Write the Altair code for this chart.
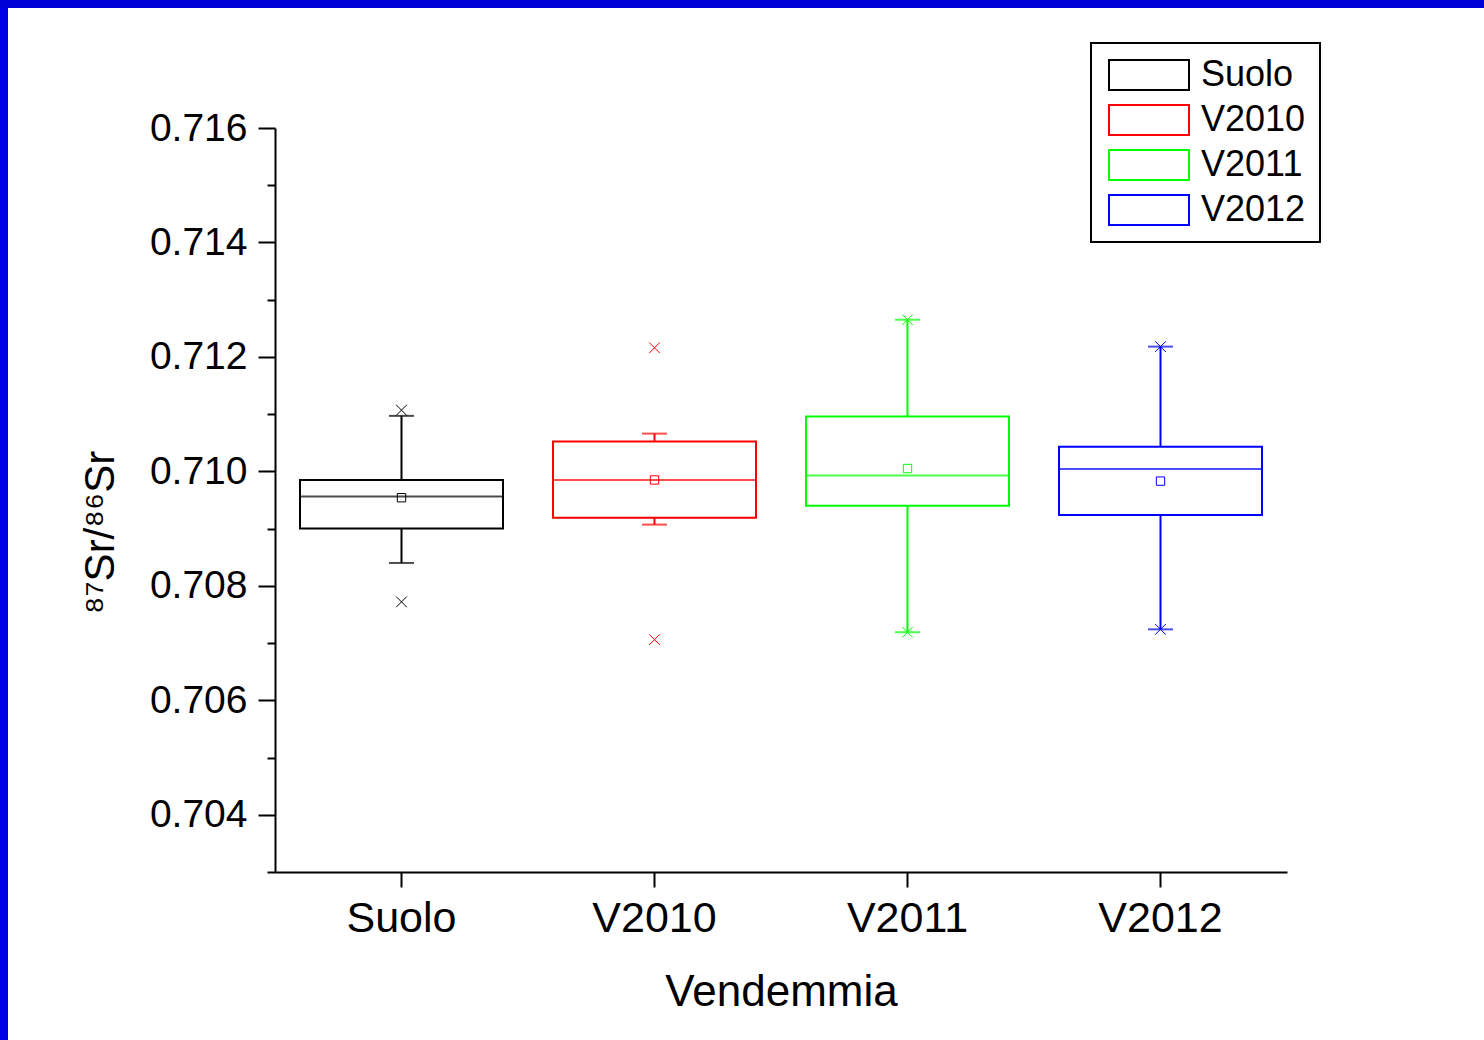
import altair as alt
import pandas as pd

categories = ["Suolo", "V2010", "V2011", "V2012"]
colors = ["#000000", "#ff0000", "#00ff00", "#0000ff"]
q1 = [0.70900, 0.70919, 0.70940, 0.70924]
q3 = [0.70985, 0.71052, 0.71096, 0.71043]
median = [0.70956, 0.70985, 0.70993, 0.71004]
mean = [0.70954, 0.70985, 0.71005, 0.70983]
whisk_lo = [0.70840, 0.70907, 0.70719, 0.70724]
whisk_hi = [0.71097, 0.71066, 0.71265, 0.71218]
v_min = [0.70772, 0.70706, 0.70719, 0.70724]
v_max = [0.71107, 0.71216, 0.71265, 0.71218]
y_ticks = [0.703, 0.704, 0.705, 0.706, 0.707, 0.708, 0.709, 0.710,
           0.711, 0.712, 0.713, 0.714, 0.715, 0.716]

df = pd.DataFrame({
    "cat": categories, "q1": q1, "q3": q3, "median": median, "mean": mean,
    "lo": whisk_lo, "hi": whisk_hi,
})
ext = pd.DataFrame({
    "cat": categories * 2,
    "v": v_min + v_max,
})

FONT = "Liberation Sans"
W, H = 1012, 744
PL, PT = 275, 128

xscale = alt.Scale(domain=categories, paddingInner=0, paddingOuter=0)
yscale = alt.Scale(domain=[0.703, 0.716], nice=False, zero=False)
cscale = alt.Scale(domain=categories, range=colors)

xaxis = alt.Axis(
    title="Vendemmia", labelAngle=0, labelFontSize=43, titleFontSize=44,
    titleFontWeight="normal", tickSize=15, tickWidth=2, domainWidth=2,
    domainColor="black", tickColor="black", labelColor="black", titleColor="black",
    labelPadding=10, titlePadding=30, labelFont=FONT, titleFont=FONT,
)
yaxis = alt.Axis(
    title="⁸⁷Sr/⁸⁶Sr", values=y_ticks,
    labelExpr="round(datum.value*1000) % 2 == 0 ? format(datum.value, '.3f') : ''",
    tickSize={"condition": {"test": "round(datum.value*1000) % 2 == 0", "value": 17}, "value": 8},
    tickWidth=2, domainWidth=2, domainColor="black", tickColor="black",
    labelColor="black", titleColor="black", labelFontSize=39, labelPadding=11,
    titleFontSize=42, titleFontWeight="normal", labelFont=FONT, titleFont=FONT,
    titleAngle=-90, titleAlign="center", titleBaseline="middle",
    titleX=100 - PL, titleY=532 - PT, grid=False,
)

# hollow rectangle (outer clockwise, inner counter-clockwise -> hole)
legend_path = ("M-2.5625,-1H2.5625V1H-2.5625Z "
               "M-2.4375,-0.875V0.875H2.4375V-0.875Z")
legend = alt.Legend(
    orient="none", legendX=816, legendY=-85, title=None,
    symbolType=legend_path, symbolSize=1024, symbolStrokeWidth=0,
    labelFontSize=36, labelFont=FONT,
    labelColor="black", rowPadding=9, padding=14,
    strokeColor="black", fillColor="white", symbolOffset=26, labelOffset=34,
)

base = alt.Chart(df)
X = alt.X("cat:N", sort=categories, scale=xscale, axis=xaxis)

box = base.mark_bar(size=203, filled=False, strokeWidth=2).encode(
    x=X,
    y=alt.Y("q1:Q", scale=yscale, axis=yaxis),
    y2="q3:Q",
    stroke=alt.Stroke("cat:N", scale=cscale, legend=legend),
)

col = alt.Color("cat:N", scale=cscale, legend=None)

whisk_low = base.mark_rule(strokeWidth=2).encode(
    x=alt.X("cat:N", sort=categories), y="lo:Q", y2="q1:Q", color=col)
whisk_high = base.mark_rule(strokeWidth=2).encode(
    x=alt.X("cat:N", sort=categories), y="q3:Q", y2="hi:Q", color=col)
cap_low = base.mark_tick(size=25, thickness=2, orient="horizontal").encode(
    x=alt.X("cat:N", sort=categories), y="lo:Q", color=col)
cap_high = base.mark_tick(size=25, thickness=2, orient="horizontal").encode(
    x=alt.X("cat:N", sort=categories), y="hi:Q", color=col)
med = base.mark_tick(size=203, thickness=2, orient="horizontal").encode(
    x=alt.X("cat:N", sort=categories), y="median:Q", color=col)
mn = base.mark_point(shape="square", size=70, filled=False, strokeWidth=1, opacity=1).encode(
    x=alt.X("cat:N", sort=categories), y="mean:Q", color=col)
extremes = alt.Chart(ext).mark_point(
    shape="M-1,-1L1,1M-1,1L1,-1", size=114, filled=False, strokeWidth=1, opacity=1
).encode(x=alt.X("cat:N", sort=categories), y="v:Q", color=col)

frame_df = pd.DataFrame({"k": [0]})
frame_left = alt.Chart(frame_df).mark_rect(color="#0000e8").encode(
    x=alt.value(-PL), x2=alt.value(-PL + 8), y=alt.value(-PT), y2=alt.value(1040 - PT))
frame_top = alt.Chart(frame_df).mark_rect(color="#0000d8").encode(
    x=alt.value(-PL), x2=alt.value(1484 - PL), y=alt.value(-PT), y2=alt.value(-PT + 8))

chart = alt.layer(
    box, whisk_low, whisk_high, cap_low, cap_high, med, mn, extremes,
    frame_left, frame_top,
).resolve_scale(color="shared").properties(
    width=W, height=H,
    autosize=alt.AutoSizeParams(type="none"),
    padding={"left": PL, "top": PT, "right": 1484 - PL - W, "bottom": 1040 - PT - H},
    background="white",
).configure_view(stroke=None).configure_legend(strokeWidth=2)

chart.save("out.html", embed_options={"renderer": "svg", "actions": False})
